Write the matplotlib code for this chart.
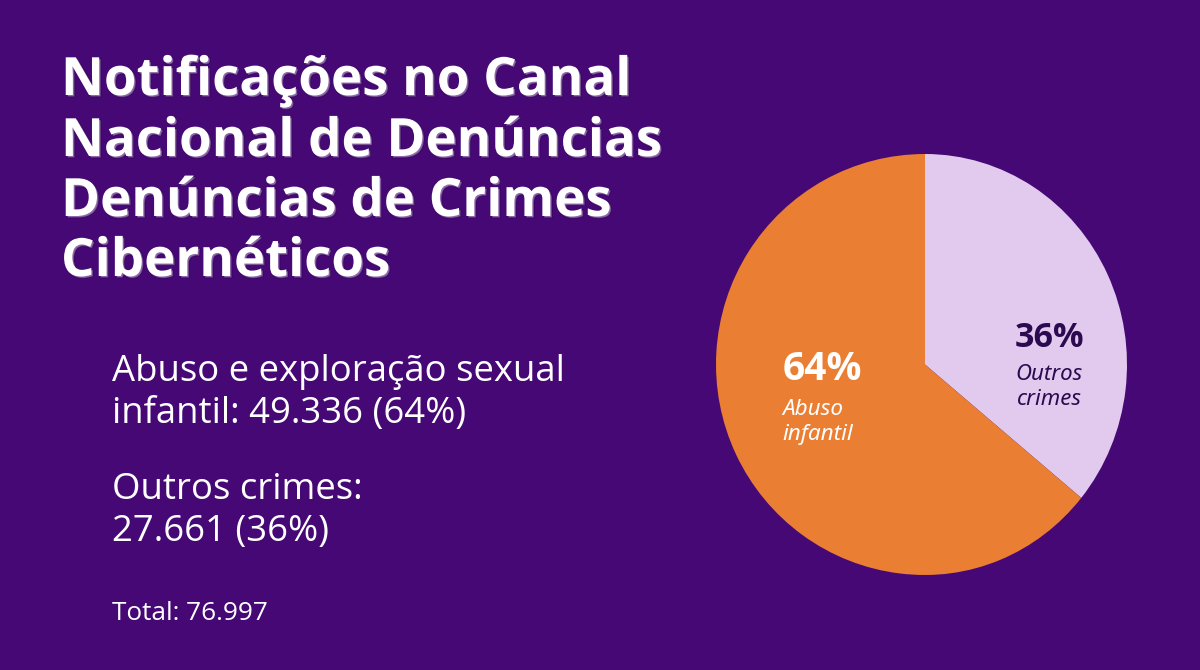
import matplotlib
matplotlib.use("Agg")
import matplotlib.pyplot as plt
import matplotlib.patheffects as pe

title_lines = ["Notificações no Canal", "Nacional de Denúncias", "Denúncias de Crimes", "Cibernéticos"]
labels = ["Outros\ncrimes", "Abuso\ninfantil"]
values = [27661, 49336]
percents = ["36%", "64%"]
colors = ["#e2c9ee", "#ea7f33"]
body_1 = ["Abuso e exploração sexual", "infantil: 49.336 (64%)"]
body_2 = ["Outros crimes:", "27.661 (36%)"]
total = "Total: 76.997"

plt.rcParams['font.family'] = ['Open Sans', 'Noto Sans', 'DejaVu Sans']
bg = "#450875"

fig = plt.figure(figsize=(12, 6.7), dpi=100, facecolor=bg)

# the pie in the reference is not quite round: right half narrower than left half
# so draw it twice and let each axes clip one half. centre x 925, top 154, bottom 575
right_ax = fig.add_axes([925 / 1200, 1 - 575 / 670, 202 / 1200, 421 / 670])
wedges, _ = right_ax.pie(values, colors=colors, startangle=90, counterclock=False, radius=1)
for w in wedges:
    w.set_clip_on(True)
right_ax.set_aspect("auto")
right_ax.set_xlim(0, 1)
right_ax.set_ylim(-1, 1)

left_ax = fig.add_axes([716 / 1200, 1 - 575 / 670, 209 / 1200, 421 / 670])
wedges, _ = left_ax.pie(values, colors=colors, startangle=90, counterclock=False, radius=1)
for w in wedges:
    w.set_clip_on(True)
left_ax.set_aspect("auto")
left_ax.set_xlim(-1, 0)
left_ax.set_ylim(-1, 1)

# text layer in pixel coords, on top of the pie
ax = fig.add_axes([0, 0, 1, 1], zorder=5)
ax.set_xlim(0, 1200)
ax.set_ylim(670, 0)
ax.axis("off")

shadow = [pe.Stroke(offset=(1.2, -1.2), linewidth=1, foreground="#24003f", alpha=0.4), pe.Normal()]
for y, line in zip([81, 142, 202, 262], title_lines):
    ax.text(61, y, line, color="white", fontsize=38, fontweight="bold", va="center", ha="left",
            path_effects=shadow)

for y, line in zip([372, 414], body_1):
    ax.text(112, y, line, color="white", fontsize=26.3, va="center", ha="left")
for y, line in zip([490, 532], body_2):
    ax.text(112, y, line, color="white", fontsize=26.3, va="center", ha="left")
ax.text(112, 614, total, color="white", fontsize=18.8, va="center", ha="left")

ax.text(1049, 338, percents[0], color="#2b0a50", fontsize=24.5, fontweight="bold", ha="center", va="center")
ax.text(1049, 387, labels[0], color="#2b0a50", fontsize=16, style="italic", family=["Noto Sans", "DejaVu Sans"],
        ha="center", va="center", linespacing=1.3)
ax.text(822, 370, percents[1], color="white", fontsize=28, fontweight="bold", ha="center", va="center")
ax.text(782, 422, labels[1], color="white", fontsize=16.2, style="italic", family=["Noto Sans", "DejaVu Sans"],
        ha="left", va="center", linespacing=1.3)

fig.savefig("out.png", dpi=100, facecolor=bg)
